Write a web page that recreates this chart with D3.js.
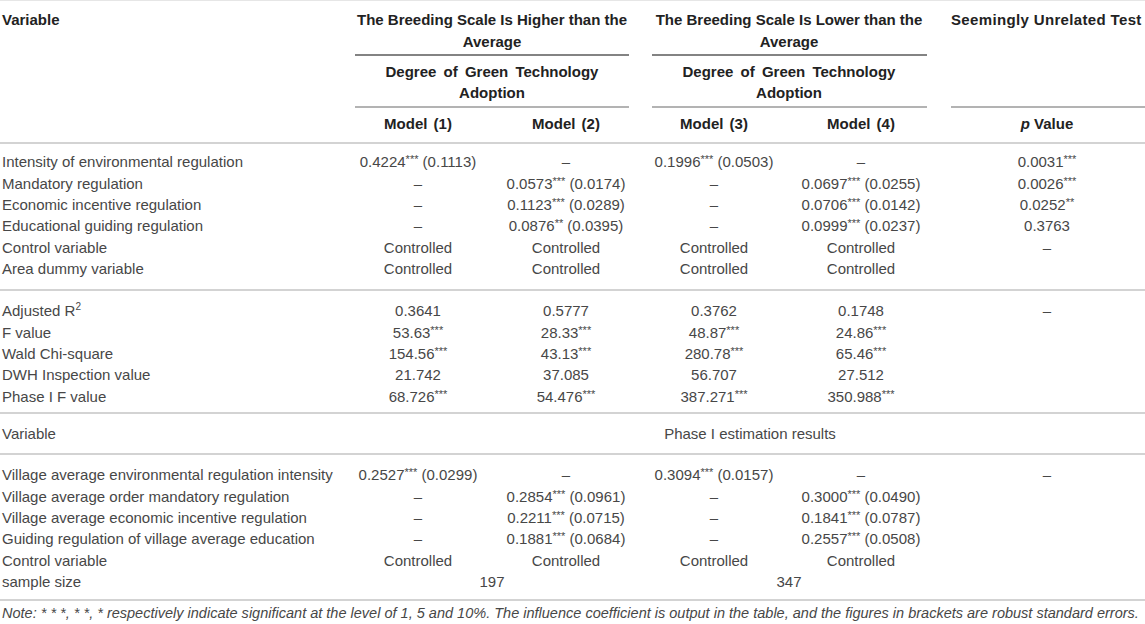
<!DOCTYPE html>
<html>
<head>
<meta charset="utf-8">
<script src="https://cdn.jsdelivr.net/npm/d3@7"></script>
<style>
  body { margin: 0; background: #fff; }
  svg { display: block; font-family: "Liberation Sans", Arial, sans-serif; }
</style>
</head>
<body>
<div id="table"></div>
<script>
// Table values

const DASH = "\u2013";

const groupHeads = [
  ["The Breeding Scale Is Higher than the", "Average"],
  ["The Breeding Scale Is Lower than the", "Average"]
];
const subHead = ["Degree of Green Technology", "Adoption"];
const testHead = "Seemingly Unrelated Test";
const modelHeads = ["Model (1)", "Model (2)", "Model (3)", "Model (4)"];

// block 1: regression estimates
const estLabels = [
  "Intensity of environmental regulation",
  "Mandatory regulation",
  "Economic incentive regulation",
  "Educational guiding regulation",
  "Control variable",
  "Area dummy variable"
];
const estValues = [
  ["0.4224*** (0.1113)", DASH, "0.1996*** (0.0503)", DASH, "0.0031***"],
  [DASH, "0.0573*** (0.0174)", DASH, "0.0697*** (0.0255)", "0.0026***"],
  [DASH, "0.1123*** (0.0289)", DASH, "0.0706*** (0.0142)", "0.0252**"],
  [DASH, "0.0876** (0.0395)", DASH, "0.0999*** (0.0237)", "0.3763"],
  ["Controlled", "Controlled", "Controlled", "Controlled", DASH],
  ["Controlled", "Controlled", "Controlled", "Controlled", ""]
];

// block 2: test statistics
const statLabels = [
  "Adjusted R^2",
  "F value",
  "Wald Chi-square",
  "DWH Inspection value",
  "Phase I F value"
];
const statValues = [
  ["0.3641", "0.5777", "0.3762", "0.1748", DASH],
  ["53.63***", "28.33***", "48.87***", "24.86***", ""],
  ["154.56***", "43.13***", "280.78***", "65.46***", ""],
  ["21.742", "37.085", "56.707", "27.512", ""],
  ["68.726***", "54.476***", "387.271***", "350.988***", ""]
];

// block 3: phase I estimation
const phaseTitle = "Phase I estimation results";
const phaseLabels = [
  "Village average environmental regulation intensity",
  "Village average order mandatory regulation",
  "Village average economic incentive regulation",
  "Guiding regulation of village average education",
  "Control variable"
];
const phaseValues = [
  ["0.2527*** (0.0299)", DASH, "0.3094*** (0.0157)", DASH, DASH],
  [DASH, "0.2854*** (0.0961)", DASH, "0.3000*** (0.0490)", ""],
  [DASH, "0.2211*** (0.0715)", DASH, "0.1841*** (0.0787)", ""],
  [DASH, "0.1881*** (0.0684)", DASH, "0.2557*** (0.0508)", ""],
  ["Controlled", "Controlled", "Controlled", "Controlled", ""]
];
const sampleLabel = "sample size";
const sampleSizes = ["197", "347"];

const noteText = "Note: * * *, * *, * respectively indicate significant at the level of 1, 5 and 10%. The influence coefficient is output in the table, and the figures in brackets are robust standard errors.";

// layout
const W = 1145, H = 624;
const cols = ["m1", "m2", "m3", "m4", "p"];
const colX = d3.scaleOrdinal().domain(cols).range([418, 566, 714, 861, 1047]);
const groupX = d3.scaleOrdinal().domain(["high", "low"]).range([492, 789]);
const groupSpan = d3.scaleOrdinal().domain(["high", "low", "test"])
  .range([[355, 629], [652, 927], [951, W]]);
const pitch = 21.4;
const rowY = start => d3.scaleLinear().domain([0, 1]).range([start, start + pitch]);
const y1 = rowY(162), y2 = rowY(311), y3 = rowY(475);

const svg = d3.select("#table").append("svg")
  .attr("width", W)
  .attr("height", H);

// write text with small raised stars / ^superscripts
function rich(sel, str) {
  const parts = str.split(/(\*+|\^\w)/).filter(s => s !== "");
  let shift = 0;
  parts.forEach(p => {
    const isStar = /^\*+$/.test(p);
    const isSup = p[0] === "^";
    const t = sel.append("tspan");
    if (isStar || isSup) {
      const s = isStar ? -4 : -6;
      t.text(isSup ? p.slice(1) : p)
        .attr("font-size", isStar ? 11 : 10)
        .attr("dy", s - shift);
      shift = s;
    } else {
      t.text(p);
      if (shift) t.attr("dy", -shift);
      shift = 0;
    }
  });
}

// rules
const rules = svg.append("g");
function hline(x1, x2, y, color, w) {
  rules.append("line")
    .attr("x1", x1).attr("x2", x2)
    .attr("y1", y).attr("y2", y)
    .attr("stroke", color)
    .attr("stroke-width", w);
}
hline(0, W, 0.5, "#e6e6e6", 1);
["high", "low"].forEach(g => hline(groupSpan(g)[0], groupSpan(g)[1], 55, "#5a5a5a", 1.6));
["high", "low", "test"].forEach(g => hline(groupSpan(g)[0], groupSpan(g)[1], 107, "#9a9a9a", 1.6));
[143, 290, 413, 454, 600].forEach(y => hline(0, W, y, "#c4c4c4", 1.6));

// header
const head = svg.append("g")
  .attr("font-size", 15)
  .attr("font-weight", "bold")
  .attr("fill", "#222");

head.append("text").attr("x", 2).attr("y", 20).attr("dy", "0.35em").text("Variable");

["high", "low"].forEach((g, i) => {
  groupHeads[i].forEach((line, j) => {
    head.append("text")
      .attr("x", groupX(g))
      .attr("y", 20 + j * 22)
      .attr("dy", "0.35em")
      .attr("text-anchor", "middle")
      .text(line);
  });
  subHead.forEach((line, j) => {
    head.append("text")
      .attr("x", groupX(g))
      .attr("y", 72 + j * 21)
      .attr("dy", "0.35em")
      .attr("text-anchor", "middle")
      .attr("word-spacing", 3)
      .text(line);
  });
});

head.append("text")
  .attr("x", groupSpan("test")[0])
  .attr("y", 20)
  .attr("dy", "0.35em")
  .attr("letter-spacing", 0.35)
  .text(testHead);

head.selectAll(".model")
  .data(modelHeads)
  .join("text")
  .attr("class", "model")
  .attr("x", (d, i) => colX(cols[i]))
  .attr("y", 124)
  .attr("dy", "0.35em")
  .attr("text-anchor", "middle")
  .attr("word-spacing", 2)
  .text(d => d);

const pv = head.append("text")
  .attr("x", colX("p"))
  .attr("y", 124)
  .attr("dy", "0.35em")
  .attr("text-anchor", "middle");
pv.append("tspan").attr("font-style", "italic").text("p");
pv.append("tspan").text(" Value");

// body blocks
const body = svg.append("g")
  .attr("font-size", 15)
  .attr("fill", "#474747");

function block(labels, values, y) {
  labels.forEach((lab, r) => {
    const t = body.append("text")
      .attr("x", 2)
      .attr("y", y(r))
      .attr("dy", "0.35em");
    rich(t, lab);
    values[r].forEach((v, c) => {
      if (!v) return;
      const cell = body.append("text")
        .attr("x", colX(cols[c]))
        .attr("y", y(r))
        .attr("dy", "0.35em")
        .attr("text-anchor", "middle");
      rich(cell, v);
    });
  });
}

block(estLabels, estValues, y1);
block(statLabels, statValues, y2);

body.append("text").attr("x", 2).attr("y", 433.5).attr("dy", "0.35em").text("Variable");
body.append("text")
  .attr("x", (groupSpan("high")[0] + W) / 2)
  .attr("y", 433.5)
  .attr("dy", "0.35em")
  .attr("text-anchor", "middle")
  .text(phaseTitle);

block(phaseLabels, phaseValues, y3);

body.append("text")
  .attr("x", 2)
  .attr("y", y3(phaseLabels.length))
  .attr("dy", "0.35em")
  .text(sampleLabel);
["high", "low"].forEach((g, i) => {
  body.append("text")
    .attr("x", groupX(g))
    .attr("y", y3(phaseLabels.length))
    .attr("dy", "0.35em")
    .attr("text-anchor", "middle")
    .text(sampleSizes[i]);
});

// note, fitted to the table width
const note = svg.append("text")
  .attr("x", 2)
  .attr("y", 613)
  .attr("dy", "0.35em")
  .attr("font-size", 14)
  .attr("font-style", "italic")
  .attr("fill", "#474747")
  .text(noteText);
const len = note.node().getComputedTextLength();
note.attr("font-size", 14 * 1138 / len);
</script>
</body>
</html>
